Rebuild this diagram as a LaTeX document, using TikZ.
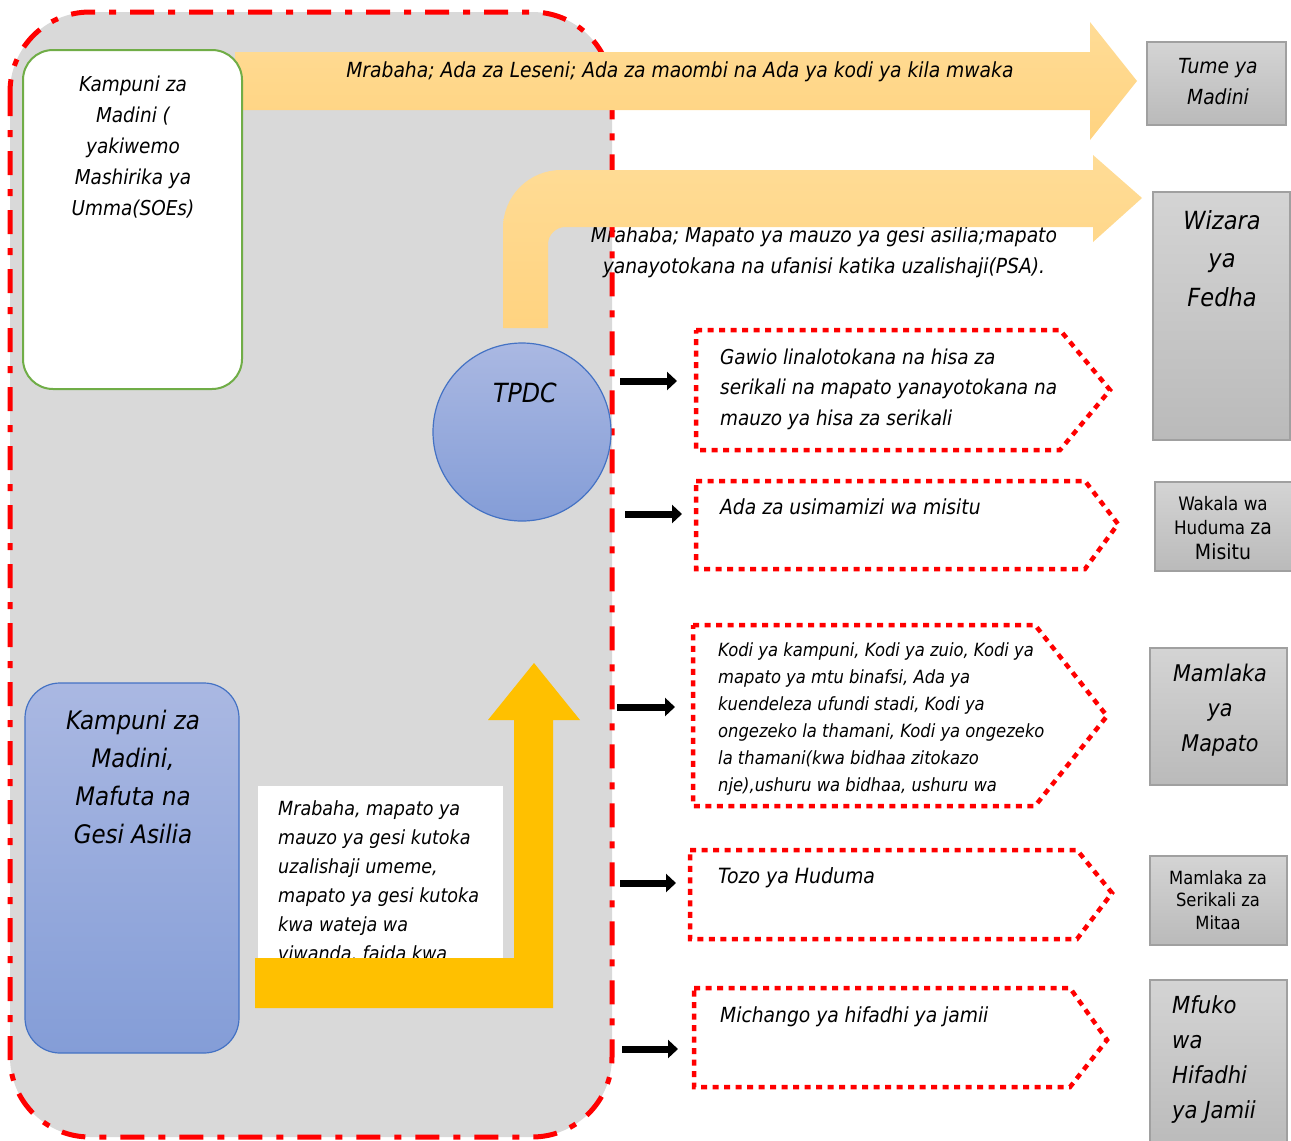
\documentclass[tikz,border=0pt]{standalone}
\usepackage{fontspec}
\setmainfont{DejaVuSansCondensed.ttf}[ItalicFont=DejaVuSansCondensed-Oblique.ttf,BoldFont=DejaVuSansCondensed-Bold.ttf]
\usetikzlibrary{arrows.meta}
\definecolor{cgray}{RGB}{217,217,217}
\definecolor{cgreen}{RGB}{112,173,71}
\definecolor{cblue}{RGB}{68,114,196}
\definecolor{bluetop}{RGB}{170,184,226}
\definecolor{bluebot}{RGB}{132,157,215}
\definecolor{orgtop}{RGB}{255,220,150}
\definecolor{orgbot}{RGB}{255,211,128}
\definecolor{cyellow}{RGB}{255,192,0}
\definecolor{graytop}{RGB}{212,212,212}
\definecolor{graybot}{RGB}{186,186,186}
\definecolor{grayline}{RGB}{160,160,160}
\definecolor{cred}{RGB}{255,0,0}
\newcommand{\fs}[2]{\fontsize{#1pt}{#2pt}\selectfont}
\tikzset{
  txt/.style={inner sep=0pt,font=\itshape},
  grbox/.style={draw=grayline,line width=1.2pt,top color=graytop,bottom color=graybot},
  redframe/.style={draw=cred,line width=5pt,dash pattern=on 24pt off 14pt on 7pt off 14pt},
  dotbox/.style={draw=cred,line width=4.5pt,dash pattern=on 6pt off 5.5pt,fill=white},
  blk/.style={line width=7pt,-{Triangle[length=10pt,width=18pt]}},
}
\begin{document}
\begin{tikzpicture}[x=1pt,y=-1pt]
\useasboundingbox (0,0) rectangle (1291,1141);
% container fill
\fill[cgray,rounded corners=80pt] (10,12) rectangle (612,1137);
% PSA text (anchor base = last line)
\node[txt,anchor=base,align=center,font=\itshape\fs{20.8}{31}] (psa) at (824,273)
  {Mrahaba; Mapato ya mauzo ya gesi asilia;mapato\\yanayotokana na ufanisi katika uzalishaji(PSA).};
% container border
\draw[redframe,rounded corners=80pt] (10,12) rectangle (612,1137);
% top arrow
\path[top color=orgtop,bottom color=orgbot] (235,52) -- (1090,52) -- (1090,22) -- (1137,81) -- (1090,140) -- (1090,110) -- (235,110) -- cycle;
\node[txt,anchor=base,font=\itshape\fs{20.8}{31}] (toptxt) at (680,77) {Mrabaha; Ada za Leseni; Ada za maombi na Ada ya kodi ya kila mwaka};
% bent arrow from TPDC
\path[top color=orgtop,bottom color=orgbot] (503,328) -- (503,228) .. controls (503,196) and (529,170) .. (561,170)
  -- (1093,170) -- (1093,155) -- (1142,198) -- (1093,242) -- (1093,227) -- (565,227)
  .. controls (556,227) and (548,235) .. (548,244) -- (548,328) -- cycle;
% green box
\draw[cgreen,line width=2pt,fill=white,rounded corners=30pt] (23,50) rectangle (242,389);
\node[txt,anchor=base,align=center,font=\itshape\fs{20.5}{31}] (soe) at (133,215)
  {Kampuni za\\Madini (\\yakiwemo\\Mashirika ya\\Umma(SOEs)};
% TPDC
\draw[cblue,line width=1.2pt,top color=bluetop,bottom color=bluebot] (522,432) circle (89);
\node[txt,anchor=base,font=\itshape\fs{26.4}{30}] (tpdc) at (525,402) {TPDC};
% blue box
\draw[cblue,line width=1.2pt,top color=bluetop,bottom color=bluebot,rounded corners=35pt] (25,683) rectangle (239,1053);
\node[txt,anchor=base,align=center,font=\itshape\fs{25.5}{38}] (kmp) at (133,843)
  {Kampuni za\\Madini,\\Mafuta na\\Gesi Asilia};
% white text box
\fill[white] (258,786) rectangle (503,1000);
\node[txt,anchor=base west,align=left,font=\itshape\fs{19.5}{29}] (wtxt) at (278,960)
  {Mrabaha, mapato ya\\mauzo ya gesi kutoka\\uzalishaji umeme,\\mapato ya gesi kutoka\\kwa wateja wa\\viwanda, faida kwa};
% yellow arrow
\fill[cyellow] (255,958) -- (514,958) -- (514,720) -- (488,720) -- (534,663) -- (580,720) -- (553,720) -- (553,1008) -- (255,1008) -- cycle;
% right boxes
\draw[grbox] (1147,42) rectangle (1286,125);
\node[txt,anchor=base,align=center,font=\itshape\fs{20.8}{31}] (tume) at (1218,104) {Tume ya\\Madini};
\draw[grbox] (1153,192) rectangle (1290,440);
\node[txt,anchor=base,align=center,font=\itshape\fs{25}{38.5}] (wiz) at (1222,306) {Wizara\\ya\\Fedha};
\draw[grbox] (1155,482) rectangle (1293,571);
\node[inner sep=0pt,anchor=base,align=center,font=\fs{18.6}{24.5}] (wak) at (1223,559) {Wakala wa\\Huduma {\fs{21}{24.5}za}\\{\fs{21}{24.5}Misitu}};
\draw[grbox] (1150,648) rectangle (1287,785);
\node[txt,anchor=base,align=center,font=\itshape\fs{23}{35}] (mapato) at (1220,751) {Mamlaka\\ya\\Mapato};
\draw[grbox] (1150,856) rectangle (1287,945);
\node[inner sep=0pt,anchor=base,align=center,font=\fs{18.2}{22.5}] (mitaa) at (1218,929) {Mamlaka za\\Serikali za\\Mitaa};
\draw[grbox] (1150,980) rectangle (1287,1150);
\node[txt,anchor=base west,align=left,font=\itshape\fs{23.5}{35}] (mfuko) at (1172,1118) {Mfuko\\wa\\Hifadhi\\ya Jamii};
% pentagons
\draw[dotbox] (696,330) -- (1060,330) -- (1110,390) -- (1060,450) -- (696,450) -- cycle;
\node[txt,anchor=base west,align=left,font=\itshape\fs{20.5}{30.5}] (p1) at (720,425)
  {Gawio linalotokana na hisa za\\serikali na mapato yanayotokana na\\mauzo ya hisa za serikali};
\draw[dotbox] (696,481) -- (1085,481) -- (1118,524) -- (1085,569) -- (696,569) -- cycle;
\node[txt,anchor=base west,font=\itshape\fs{20.8}{30.5}] (p2) at (720,514) {Ada za usimamizi wa misitu};
\draw[dotbox] (693,625) -- (1035,625) -- (1107,716) -- (1035,806) -- (693,806) -- cycle;
\node[txt,anchor=base west,align=left,font=\itshape\fs{18.2}{27}] (p3) at (718,791)
  {Kodi ya kampuni, Kodi ya zuio, Kodi ya\\mapato ya mtu binafsi, Ada ya\\kuendeleza ufundi stadi, Kodi ya\\ongezeko la thamani, Kodi ya ongezeko\\la thamani(kwa bidhaa zitokazo\\nje),ushuru wa bidhaa, ushuru wa};
\draw[dotbox] (690,850) -- (1077,850) -- (1112,893) -- (1077,939) -- (690,939) -- cycle;
\node[txt,anchor=base west,font=\itshape\fs{21}{30.5}] (p4) at (718,883) {Tozo ya Huduma};
\draw[dotbox] (694,988) -- (1070,988) -- (1107,1040) -- (1070,1087) -- (694,1087) -- cycle;
\node[txt,anchor=base west,font=\itshape\fs{20.8}{30.5}] (p5) at (720,1022) {Michango ya hifadhi ya jamii};
% black arrows
\coordinate (a1s) at (620,381); \coordinate (a1e) at (677,381);
\coordinate (a2s) at (625,514); \coordinate (a2e) at (682,514);
\coordinate (a3s) at (617,707); \coordinate (a3e) at (675,707);
\coordinate (a4s) at (620,883); \coordinate (a4e) at (676,883);
\coordinate (a5s) at (622,1049); \coordinate (a5e) at (678,1049);
\draw[blk] (a1s) -- (a1e);
\draw[blk] (a2s) -- (a2e);
\draw[blk] (a3s) -- (a3e);
\draw[blk] (a4s) -- (a4e);
\draw[blk] (a5s) -- (a5e);
\end{tikzpicture}
\end{document}
